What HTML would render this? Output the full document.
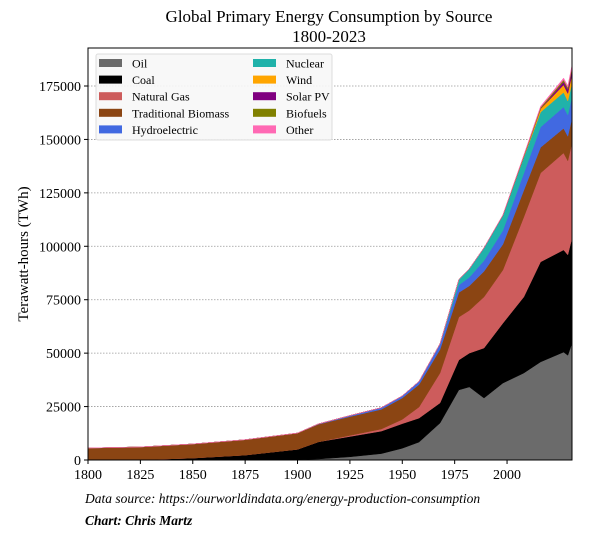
<!DOCTYPE html>
<html><head><meta charset="utf-8">
<style>
body{margin:0;background:#fff;width:608px;height:537px;overflow:hidden;font-family:"Liberation Serif",serif;}
</style></head>
<body>
<svg id="chart" width="608" height="537" xmlns="http://www.w3.org/2000/svg" font-family="Liberation Serif, serif">
<text x="329" y="22" text-anchor="middle" font-size="17">Global Primary Energy Consumption by Source</text>
<text x="329" y="42" text-anchor="middle" font-size="17">1800-2023</text>
<text transform="translate(28,254) rotate(-90)" text-anchor="middle" font-size="15">Terawatt-hours (TWh)</text>
<g id="grid"></g>
<g id="areas"></g>
<g id="axes"></g>
<g id="legend"></g>
<text x="85" y="503" font-size="13.5" font-style="italic">Data source: https://ourworldindata.org/energy-production-consumption</text>
<text x="85" y="525" font-size="13.5" font-style="italic" font-weight="bold">Chart: Chris Martz</text>
</svg>
<script>
const years=[1800,1825,1850,1875,1900,1910,1925,1940,1950,1958,1968,1977,1982,1989,1998,2008,2016,2027,2029,2031];
const oil=[0,0,0,0,200,500,1500,3000,5500,8400,17300,32800,34200,29000,36000,40700,45900,50500,49000,54700];
const coal=[0,100,900,2300,4800,8000,9500,10500,11500,11200,9400,14000,15800,23400,28000,35600,46800,47800,47000,49200];
const gas=[0,0,0,0,0,0,500,1000,2000,5200,14000,20100,20000,23900,24900,37400,41600,45400,44000,44500];
const biomass=[5600,6000,6600,7200,7600,8200,8800,9200,10000,10500,11000,11500,11500,12000,12000,12500,12000,11500,11500,11500];
const hydro=[0,0,0,0,0,200,500,800,1000,1500,2500,3500,4000,5000,6500,8000,9500,10000,10000,10000];
const nuclear=[0,0,0,0,0,0,0,0,0,0,200,2500,4000,6000,7000,7500,7000,6800,6500,6500];
const wind=[0,0,0,0,0,0,0,0,0,0,0,0,0,0,50,400,1500,3500,3500,4000];
const solar=[0,0,0,0,0,0,0,0,0,0,0,0,0,0,0,0,100,1500,1900,2500];
const biofuels=[0,0,0,0,0,0,0,0,0,0,0,0,0,0,100,300,600,900,900,1000];
const other=[0,0,0,0,0,0,0,0,0,0,0,0,0,0,100,300,500,800,800,900];
const seriesNames=["Oil","Coal","Natural Gas","Traditional Biomass","Hydroelectric","Nuclear","Wind","Solar PV","Biofuels","Other"];
const seriesData=[oil,coal,gas,biomass,hydro,nuclear,wind,solar,biofuels,other];
const seriesColors=["#6b6b6b","#000000","#cd5c5c","#8b4513","#4169e1","#20b2aa","#ffa500","#800080","#808000","#ff69b4"];
const yTicks=[0,25000,50000,75000,100000,125000,150000,175000];
const xTicks=[1800,1825,1850,1875,1900,1925,1950,1975,2000];

const NS="http://www.w3.org/2000/svg";
const L=88,R=572,T=48,B=460;
const X0=1800,X1=2031,YMAX=182500;
const xs=v=>L+(v-X0)/(X1-X0)*(R-L);
const ys=v=>B-v/175000*(B-86);
function mk(tag,attrs,parent){const e=document.createElementNS(NS,tag);for(const k in attrs)e.setAttribute(k,attrs[k]);parent.appendChild(e);return e;}
const grid=document.getElementById('grid'),areas=document.getElementById('areas'),axes=document.getElementById('axes'),legend=document.getElementById('legend');
yTicks.forEach((t,i)=>{
  if(t>0){const g=mk('line',{x1:L,x2:R,y1:ys(t),y2:ys(t),stroke:'#999','stroke-dasharray':'1.5,1.5','stroke-width':0.8},grid);
  
  }
  const tk=mk('line',{x1:L-4,x2:L,y1:ys(t),y2:ys(t),stroke:'#000'},axes);
  
  
  const tx=mk('text',{x:L-7,y:ys(t)+5,'text-anchor':'end','font-size':14},axes);tx.textContent=t;
  
  
});
let base=years.map(()=>0);
seriesData.forEach((s,i)=>{
  const top=base.map((b,j)=>b+s[j]);
  let d='M'+years.map((y,j)=>xs(y)+','+ys(top[j])).join('L');
  for(let j=years.length-1;j>=0;j--)d+='L'+xs(years[j])+','+ys(base[j]);
  d+='Z';
  const p=mk('path',{d:d,fill:seriesColors[i],stroke:seriesColors[i],'stroke-width':0.5},areas);
  
  
  base=top;
});
const fr=mk('rect',{x:L,y:T,width:R-L,height:B-T,fill:'none',stroke:'#000','stroke-width':1},axes);


xTicks.forEach(t=>{
  const tk=mk('line',{x1:xs(t),x2:xs(t),y1:B,y2:B+4,stroke:'#000'},axes);
  
  
  const tx=mk('text',{x:xs(t),y:B+19,'text-anchor':'middle','font-size':14},axes);tx.textContent=t;
  
  
});
const lb=mk('rect',{x:96,y:54,width:236,height:86,fill:'#f7f7f7',stroke:'#ddd',rx:2,'fill-opacity':0.9},legend);


seriesNames.forEach((n,i)=>{
  const col=i<5?0:1,row=i%5;
  const sx=col?253:99,ty=59+row*16.6;
  const g=mk('g',{},legend);
  
  
  mk('rect',{x:sx,y:ty,width:23,height:8,fill:seriesColors[i]},g);
  const t=mk('text',{x:sx+33,y:ty+8.5,'font-size':12},g);t.textContent=n;
});
</script>
</body></html>
